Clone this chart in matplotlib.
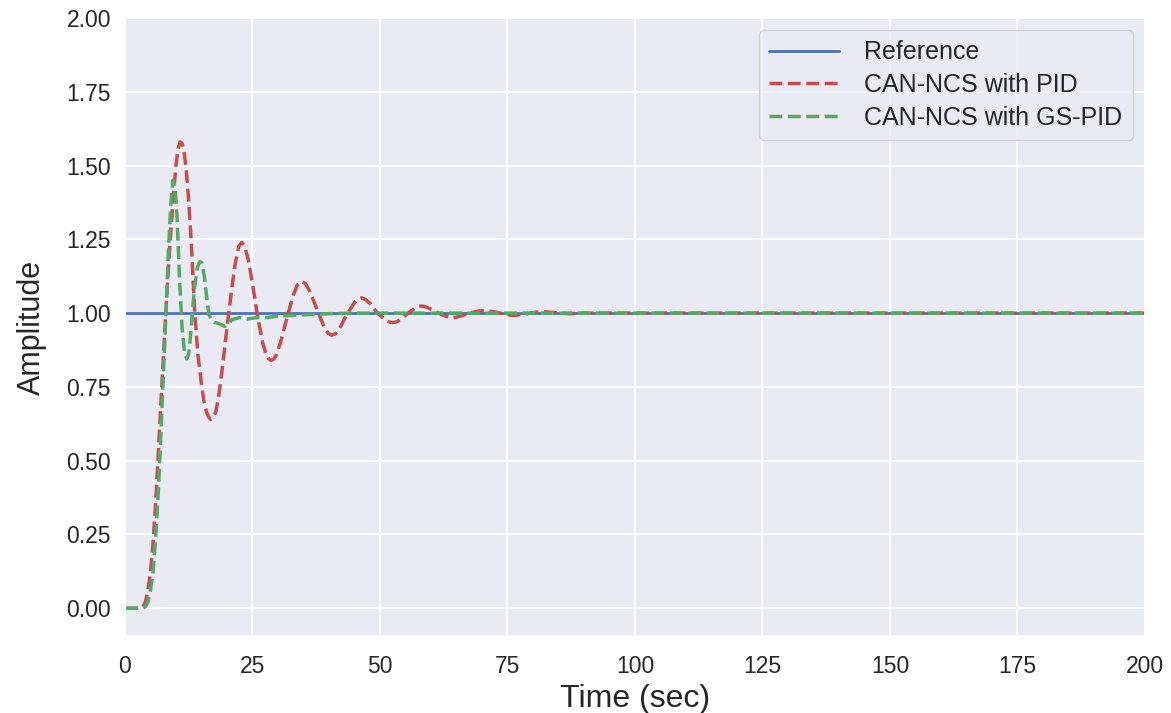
import numpy as np
import matplotlib
matplotlib.use("Agg")
import matplotlib.pyplot as plt
import seaborn as sns

# Data (step responses)
t_ref = [0, 200]
y_ref = [1.0, 1.0]

t_pid = [0, 3, 3.5, 4, 4.5, 5, 5.5, 6, 6.5, 7, 7.5, 8, 8.5, 9, 9.5, 10,
         10.4, 10.8, 11.2, 11.6, 12, 12.5, 13, 13.7, 14.3, 15, 15.5, 16,
         16.4, 16.8, 17.3, 17.8, 18.4, 19, 20, 21, 21.6, 22.3, 22.9, 23.5,
         24.2, 25, 26, 27, 27.7, 28.2, 28.6, 29.1, 29.6, 30.5, 31.7, 33,
         33.8, 34.6, 35.4, 36.2, 37.5, 39, 39.8, 40.5, 41.3, 42.2, 43.5, 45,
         45.7, 46.4, 47.2, 48.2, 49.5, 51, 51.7, 52.4, 53.2, 54.2, 55.5, 57,
         57.6, 58.3, 59, 60, 61.5, 63, 63.6, 64.2, 65, 66, 67.5, 69, 69.8,
         70.6, 71.4, 72.5, 73.5, 75, 75.8, 76.8, 78, 79.5, 81, 81.8, 82.8,
         84, 85.5, 87, 90, 200]
y_pid = [0, 0, 0.005, 0.02, 0.06, 0.12, 0.22, 0.35, 0.51, 0.68, 0.84, 1.0,
         1.15, 1.28, 1.40, 1.50, 1.555, 1.58, 1.575, 1.545, 1.49, 1.38,
         1.24, 1.0, 0.86, 0.76, 0.70, 0.665, 0.648, 0.64, 0.645, 0.665,
         0.72, 0.80, 0.95, 1.09, 1.165, 1.225, 1.24, 1.225, 1.18, 1.1, 0.99,
         0.9, 0.86, 0.845, 0.84, 0.843, 0.855, 0.9, 0.98, 1.06, 1.095,
         1.108, 1.1, 1.075, 1.02, 0.955, 0.932, 0.925, 0.93, 0.952, 0.995,
         1.035, 1.048, 1.052, 1.046, 1.03, 1.0, 0.978, 0.971, 0.968, 0.97,
         0.98, 1.0, 1.018, 1.023, 1.024, 1.021, 1.013, 1.0, 0.989, 0.985,
         0.984, 0.986, 0.991, 1.0, 1.006, 1.008, 1.008, 1.007, 1.004, 1.0,
         0.995, 0.992, 0.993, 0.996, 1.0, 1.004, 1.005, 1.004, 1.002, 1.0,
         0.998, 1.0, 1.0]

t_gs = [0, 3.5, 4, 4.5, 5, 5.5, 6, 6.5, 7, 7.5, 8, 8.5, 9.0, 9.4, 9.8,
        10.2, 10.7, 11.2, 11.7, 12.1, 12.5, 13.0, 13.6, 14.2, 14.7, 15.1,
        15.6, 16.1, 16.5, 17.0, 17.6, 18.4, 19.0, 19.6, 20.3, 21.0, 22.5,
        24.0, 26.0, 28.0, 30.0, 33, 36, 40, 45, 200]
y_gs = [0, 0, 0.005, 0.02, 0.06, 0.12, 0.23, 0.38, 0.57, 0.78, 0.98, 1.2,
        1.37, 1.45, 1.43, 1.33, 1.12, 0.95, 0.865, 0.845, 0.86, 0.95, 1.08,
        1.155, 1.175, 1.17, 1.12, 1.04, 0.995, 0.975, 0.968, 0.965, 0.96,
        0.955, 0.965, 0.978, 0.985, 0.98, 0.985, 0.985, 0.99, 0.992, 0.995,
        0.998, 1.0, 1.0]

sns.set_theme(style="darkgrid")
plt.rcParams['font.family'] = ['Liberation Sans', 'DejaVu Sans']

fig = plt.figure(figsize=(11.71, 7.13), dpi=100)
ax = fig.add_axes([0.1067, 0.108, 0.8711, 0.8668])

ax.plot(t_ref, y_ref, '-', color='#4C72B0', lw=2.0, label='Reference')
ax.plot(t_pid, y_pid, '--', color='#C44E52', lw=2.5, label='CAN-NCS with PID')
ax.plot(t_gs, y_gs, '--', color='#55A868', lw=2.5, label='CAN-NCS with GS-PID')

ax.set_xlim(0, 200)
ax.set_ylim(-0.094, 2.0)
ax.set_xticks(np.arange(0, 201, 25))
ax.set_yticks(np.arange(0, 2.01, 0.25))
ax.set_yticklabels([f"{v:.2f}" for v in np.arange(0, 2.01, 0.25)])
ax.tick_params(axis='x', labelsize=16.5, colors='#262626', pad=8)
ax.tick_params(axis='y', labelsize=16.5, colors='#262626', pad=4)
ax.set_xlabel('Time (sec)', fontsize=23, labelpad=4)
ax.set_ylabel('Amplitude', fontsize=22, labelpad=14)
ax.grid(True, color='white', lw=1.5)

ax.legend(loc='upper right', fontsize=18, handlelength=2.8,
          handletextpad=1.0, labelspacing=0.35)

fig.savefig('out.png', dpi=100)
